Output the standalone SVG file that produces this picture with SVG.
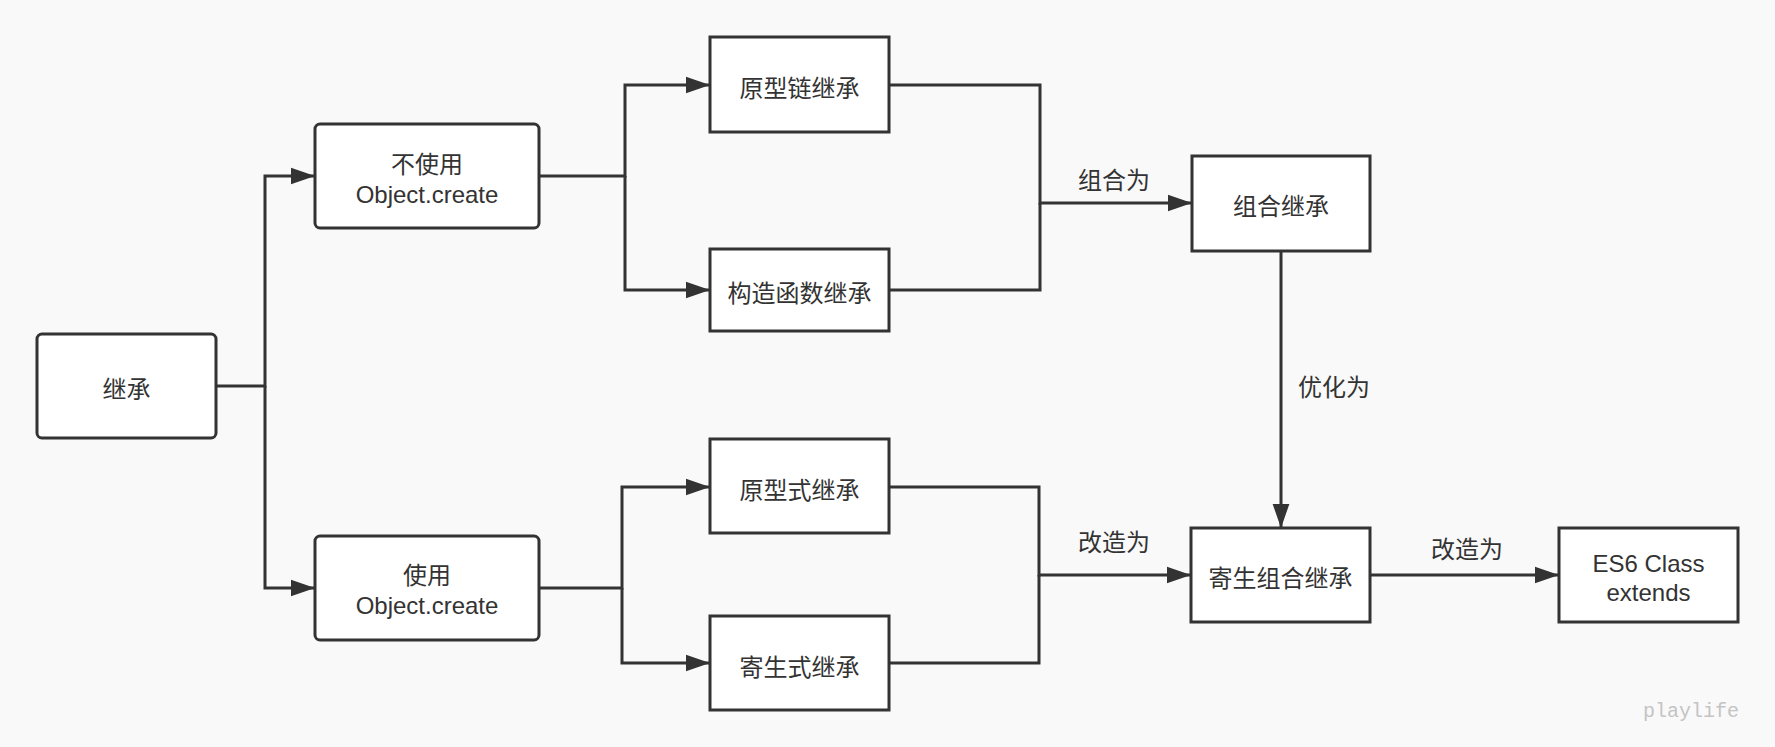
<svg xmlns="http://www.w3.org/2000/svg" width="1775" height="747" viewBox="0 0 1775 747">
<style>
.box{fill:#ffffff;stroke:#333333;stroke-width:3}
.t{font-family:"Liberation Sans","Noto Sans CJK SC",sans-serif;font-size:24px;fill:#333333;text-anchor:middle}
.lbl{font-family:"Liberation Sans","Noto Sans CJK SC",sans-serif;font-size:24px;fill:#333333}
.c{fill:none;stroke:#333333;stroke-width:3}
.wm{font-family:"Liberation Mono",monospace;font-size:20px;fill:#c4c4c4;text-anchor:end}
</style>
<defs>
<marker id="arr" markerUnits="userSpaceOnUse" markerWidth="24" markerHeight="18" viewBox="0 0 23 16" refX="23" refY="8" orient="auto">
<path d="M0,0 L23,8 L0,16 z" fill="#333333"/>
</marker>
</defs>
<rect x="0" y="0" width="1775" height="747" fill="#f9f9f9"/>
<g id="connectors">
<path class="c" d="M216,386 H265 V176 H315" marker-end="url(#arr)"/>
<path class="c" d="M265,386 V588 H315" marker-end="url(#arr)"/>
<path class="c" d="M539,176 H625 V85 H710" marker-end="url(#arr)"/>
<path class="c" d="M625,176 V290 H710" marker-end="url(#arr)"/>
<path class="c" d="M539,588 H622 V487 H710" marker-end="url(#arr)"/>
<path class="c" d="M622,588 V663 H710" marker-end="url(#arr)"/>
<path class="c" d="M889,85 H1040 V203 H1192" marker-end="url(#arr)"/>
<path class="c" d="M889,290 H1040 V203"/>
<path class="c" d="M889,487 H1039 V575 H1191" marker-end="url(#arr)"/>
<path class="c" d="M889,663 H1039 V575"/>
<path class="c" d="M1281,251 V528" marker-end="url(#arr)"/>
<path class="c" d="M1370,575 H1559" marker-end="url(#arr)"/>
<text class="t" x="1114" y="189">组合为</text>
<text class="t" x="1114" y="551">改造为</text>
<text class="lbl" x="1298" y="396">优化为</text>
<text class="t" x="1467" y="558">改造为</text>
</g>
<g id="n-inherit">
<rect class="box" x="37" y="334" width="179" height="104" rx="5"/>
<text class="t" x="126.5" y="398">继承</text>
</g>
<g id="n-no-create">
<rect class="box" x="315" y="124" width="224" height="104" rx="5"/>
<text class="t" x="427" y="173">不使用</text>
<text class="t" x="427" y="203">Object.create</text>
</g>
<g id="n-create">
<rect class="box" x="315" y="536" width="224" height="104" rx="5"/>
<text class="t" x="427" y="584">使用</text>
<text class="t" x="427" y="614">Object.create</text>
</g>
<g id="n-proto-chain">
<rect class="box" x="710" y="37" width="179" height="95"/>
<text class="t" x="799.5" y="97">原型链继承</text>
</g>
<g id="n-constructor">
<rect class="box" x="710" y="249" width="179" height="82"/>
<text class="t" x="799.5" y="302">构造函数继承</text>
</g>
<g id="n-prototypal">
<rect class="box" x="710" y="439" width="179" height="94"/>
<text class="t" x="799.5" y="499">原型式继承</text>
</g>
<g id="n-parasitic">
<rect class="box" x="710" y="616" width="179" height="94"/>
<text class="t" x="799.5" y="676">寄生式继承</text>
</g>
<g id="n-combination">
<rect class="box" x="1192" y="156" width="178" height="95"/>
<text class="t" x="1281" y="215">组合继承</text>
</g>
<g id="n-parasitic-combination">
<rect class="box" x="1191" y="528" width="179" height="94"/>
<text class="t" x="1280.5" y="587">寄生组合继承</text>
</g>
<g id="n-es6">
<rect class="box" x="1559" y="528" width="179" height="94"/>
<text class="t" x="1648.5" y="572">ES6 Class</text>
<text class="t" x="1648.5" y="601">extends</text>
</g>
<text class="wm" x="1739" y="717">playlife</text>
</svg>
